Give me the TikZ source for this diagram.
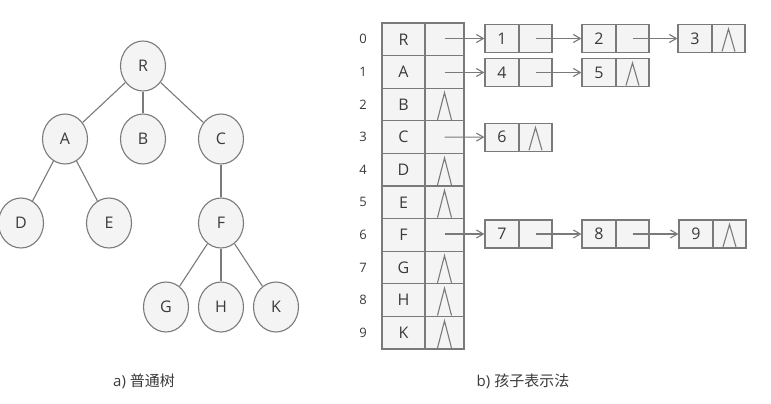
\documentclass[tikz,border=0pt]{standalone}
\usepackage{fontspec}
\setmainfont{Open Sans}
\newfontfamily\cjk{Noto Sans CJK SC}
\usetikzlibrary{arrows.meta,calc,shapes.geometric}
\definecolor{ln}{HTML}{7A7A7A}
\definecolor{fl}{HTML}{F4F4F4}
\definecolor{tx}{HTML}{3A3A3A}
\newcommand\nullmark[2]{\draw[edge] ([xshift=-#2pt,yshift=1.5pt]#1.south) -- ([yshift=-5pt]#1.north) -- ([xshift=#2pt,yshift=1.5pt]#1.south);}
\begin{document}
\begin{tikzpicture}[x=1pt,y=-1pt,
  tnode/.style={ellipse,draw=ln,fill=fl,line width=1.1pt,minimum width=45pt,minimum height=50pt,inner sep=0pt,text=tx,font=\fontsize{16}{18}\selectfont},
  edge/.style={draw=ln,line width=1.1pt},
  cell/.style={rectangle,draw=ln,fill=fl,line width=1.1pt,minimum height=32.6pt,inner sep=0pt,text=tx,font=\fontsize{16}{18}\selectfont},
  ldat/.style={rectangle,draw=ln,fill=fl,line width=1.1pt,minimum width=34pt,minimum height=28pt,inner sep=0pt,text=tx,font=\fontsize{16}{18}\selectfont},
  lptr/.style={rectangle,draw=ln,fill=fl,line width=1.1pt,minimum width=33pt,minimum height=28pt,inner sep=0pt},
  idx/.style={text=tx,font=\fontsize{13}{15}\selectfont,inner sep=0pt},
  arr/.style={draw=ln,line width=1.1pt,-{Straight Barb[length=7pt,width=8pt]}},
  captxt/.style={text=tx,font=\fontsize{15}{17}\selectfont,inner sep=0pt}]
\useasboundingbox (0,0) rectangle (771,404);
% tree
\node[tnode] (R) at (143,66) {R};
\node[tnode] (A) at (65,139) {A};
\node[tnode] (B) at (143,139) {B};
\node[tnode] (C) at (221,139) {C};
\node[tnode] (D) at (21,223) {D};
\node[tnode] (E) at (109,223) {E};
\node[tnode] (F) at (221,223) {F};
\node[tnode] (G) at (166,307) {G};
\node[tnode] (H) at (221,307) {H};
\node[tnode] (K) at (276,307) {K};
\foreach \a/\b in {R/A,R/B,R/C,A/D,A/E,C/F,F/G,F/H,F/K}
  \draw[edge] (\a) -- (\b);
% array
\foreach \i/\l in {0/R,1/A,2/B,3/C,4/D,5/E,6/F,7/G,8/H,9/K}{
  \pgfmathsetmacro\yy{23+32.6*(\i+0.5)}
  \node[cell,minimum width=43pt] (v\i) at (403.5,\yy) {\l};
  \node[cell,minimum width=39pt] (p\i) at (444.5,\yy) {};
  \node[idx] (i\i) at (363,\yy) {\i};
}
% list nodes
\foreach \n/\x/\y in {1/485/38.5,2/582/38.5,3/678/38.5,4/485/72.5,5/582/72.5,6/485/137.1,7/485/234,8/582/234,9/679/234}{
  \node[ldat] (n\n d) at (\x+17,\y) {\n};
  \node[lptr] (n\n p) at (\x+50.5,\y) {};
}
% arrows
\draw[arr] (p0.center |- n1d.west) -- (n1d.west);
\draw[arr] (n1p.center) -- (n2d.west);
\draw[arr] (n2p.center) -- (n3d.west);
\draw[arr] (p1.center |- n4d.west) -- (n4d.west);
\draw[arr] (n4p.center) -- (n5d.west);
\draw[arr] (p3.center) -- (n6d.west);
\draw[arr] (p6.center |- n7d.west) -- (n7d.west);
\draw[arr] (n7p.center) -- (n8d.west);
\draw[arr] (n8p.center) -- (n9d.west);
% null marks
\foreach \c in {p2,p4,p5,p7,p8,p9}{\nullmark{\c}{7}}
\foreach \c in {n3p,n5p,n6p,n9p}{\nullmark{\c}{6.5}}
% captions
\node[captxt] (capa) at (144,381) {a) {\cjk 普通树}};
\node[captxt] (capb) at (523,381) {b) {\cjk 孩子表示法}};
\end{tikzpicture}
\end{document}
